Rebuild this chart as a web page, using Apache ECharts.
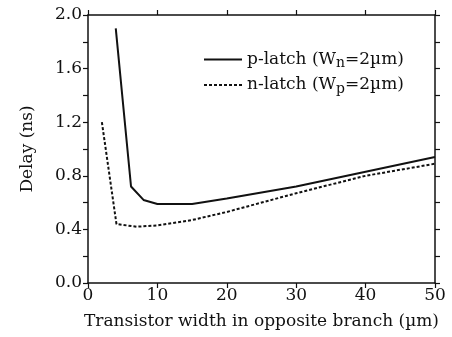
<!DOCTYPE html>
<html lang="en">
<head>
    <meta charset="UTF-8">
    <title>Delay vs transistor width</title>
    <style>
        body { margin: 0; background: #fff; }
        #chart { width: 452px; height: 337px; }
    </style>
</head>
<body>
<div id="chart"></div>

<script src="https://cdn.jsdelivr.net/npm/echarts@6/dist/echarts.min.js"></script>
<script>
    // widths (um) and delays (ns)
    let pWidth = [4, 6.2, 8, 10, 15, 20, 30, 40, 50];
    let pDelay = [1.9, 0.72, 0.62, 0.59, 0.59, 0.63, 0.72, 0.83, 0.94];

    let nWidth = [2, 4.1, 7, 10, 15, 20, 30, 40, 50];
    let nDelay = [1.2, 0.44, 0.42, 0.43, 0.47, 0.53, 0.67, 0.8, 0.89];

    let xTicks = [0, 10, 20, 30, 40, 50];
    let yTicks = [0.0, 0.4, 0.8, 1.2, 1.6, 2.0];

    function pairs(xs, ys) {
        return xs.map((x, i) => [x, ys[i]]);
    }

    let font = 'DejaVu Serif';
    let ink = '#111';

    let chart = echarts.init(document.getElementById('chart'));

    let axisBase = {
        type: 'value',
        axisLine: { show: true, onZero: false, lineStyle: { color: ink, width: 1.5 } },
        axisTick: { show: true, length: 5, lineStyle: { color: ink, width: 1.2 } },
        splitLine: { show: false }
    };

    let option = {
        animation: false,
        grid: { left: 88, right: 17, top: 15, bottom: 54, outerBoundsMode: 'none' },
        legend: {
            left: 198,
            top: 46,
            orient: 'vertical',
            itemWidth: 38,
            itemHeight: 10,
            itemGap: 6,
            itemStyle: { opacity: 0 },
            textStyle: {
                fontFamily: font,
                fontSize: 17,
                color: ink,
                rich: {
                    sub: { fontFamily: font, fontSize: 14, color: ink, padding: [8, 0, 0, 0] }
                }
            },
            formatter: function (name) {
                return name === 'p' ? 'p-latch (W{sub|n}=2\u00b5m)' : 'n-latch (W{sub|p}=2\u00b5m)';
            }
        },
        xAxis: [
            Object.assign({}, axisBase, {
                position: 'bottom',
                min: 0, max: 50, interval: 10,
                name: 'Transistor width in opposite branch (\u00b5m)',
                nameLocation: 'middle',
                nameGap: 30,
                nameTextStyle: { fontFamily: font, fontSize: 17, color: ink },
                axisLabel: {
                    fontFamily: font, fontSize: 17, color: ink, margin: 4,
                    formatter: v => xTicks.includes(v) ? String(v) : ''
                }
            }),
            Object.assign({}, axisBase, {
                position: 'top',
                min: 0, max: 50, interval: 10,
                axisLabel: { show: false }
            })
        ],
        yAxis: [
            Object.assign({}, axisBase, {
                position: 'left',
                min: 0, max: 2, interval: 0.2,
                name: 'Delay (ns)',
                nameLocation: 'middle',
                nameGap: 52,
                nameTextStyle: { fontFamily: font, fontSize: 17, color: ink },
                axisLabel: {
                    fontFamily: font, fontSize: 17, color: ink, margin: 6,
                    formatter: function (v) {
                        let hit = yTicks.find(t => Math.abs(t - v) < 1e-6);
                        return hit === undefined ? '' : hit.toFixed(1);
                    }
                }
            }),
            Object.assign({}, axisBase, {
                position: 'right',
                min: 0, max: 2, interval: 0.2,
                axisLabel: { show: false }
            })
        ],
        series: [
            {
                name: 'p',
                type: 'line',
                data: pairs(pWidth, pDelay),
                symbol: 'none',
                lineStyle: { color: ink, width: 2, type: 'solid' },
                itemStyle: { color: ink }
            },
            {
                name: 'n',
                type: 'line',
                data: pairs(nWidth, nDelay),
                symbol: 'none',
                lineStyle: { color: ink, width: 2, type: [3, 2] },
                itemStyle: { color: ink }
            }
        ]
    };

    chart.setOption(option);
</script>
</body>
</html>
